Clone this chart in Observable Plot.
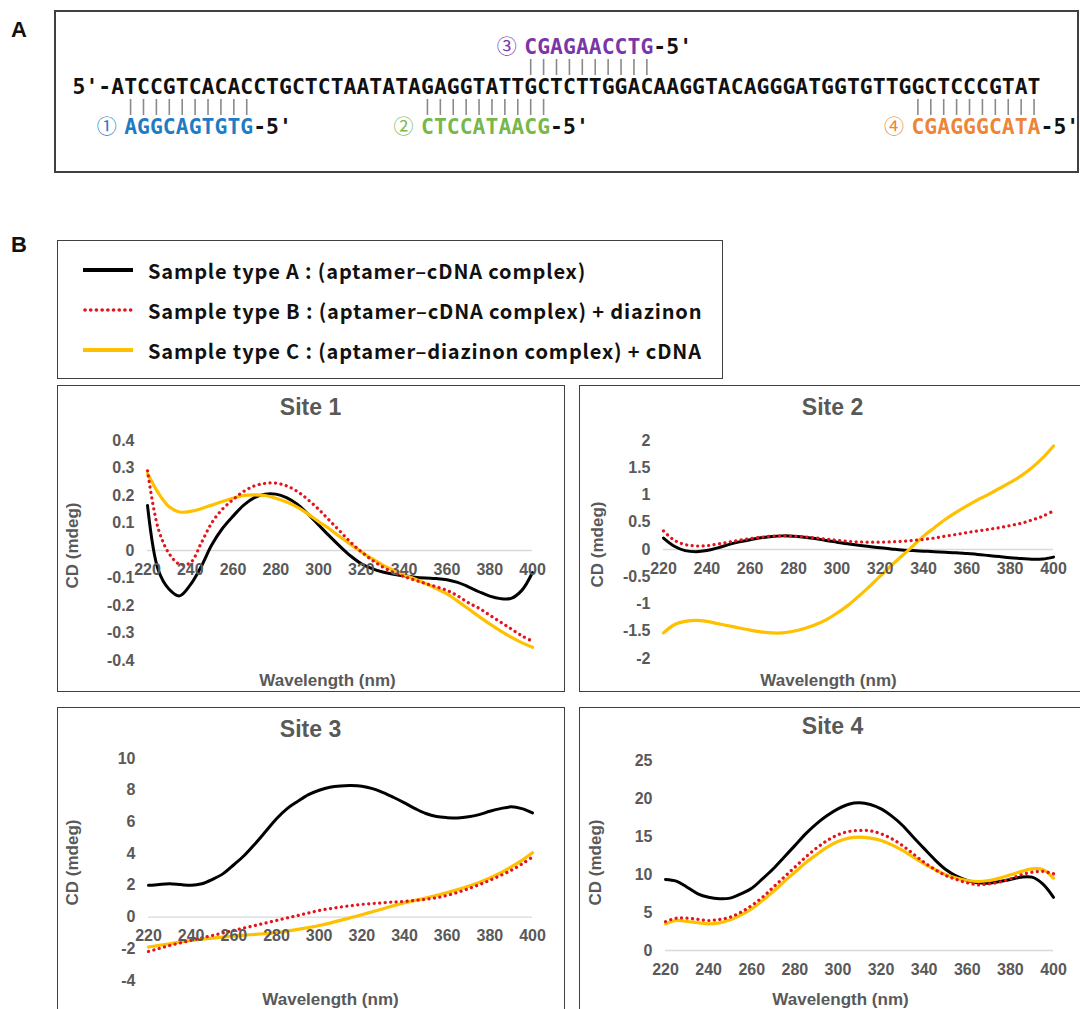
<!DOCTYPE html>
<html><head><meta charset="utf-8">
<script src="https://cdn.jsdelivr.net/npm/d3@7"></script>
<script src="https://cdn.jsdelivr.net/npm/@observablehq/plot@0.6"></script>
<style>
html,body{margin:0;padding:0;background:#fff;width:1080px;height:1009px;overflow:hidden;}
#root{position:relative;width:1080px;height:1009px;overflow:hidden;}
.frame{position:absolute;border:2px solid #404040;box-sizing:border-box;pointer-events:none;}
.plabel{position:absolute;font:bold 22px "Liberation Sans",Arial,sans-serif;color:#111;line-height:1;}
.lg-row{position:absolute;left:83px;height:30px;display:flex;align-items:center;}
.lg-row span{font:bold 20px "Noto Sans CJK KR","Noto Sans",sans-serif;letter-spacing:0.85px;color:#111;margin-left:15px;white-space:nowrap;}
</style></head><body>
<div id="root"></div>
<script>
// ---------- Panel A data ----------
const sequence = "5'-ATCCGTCACACCTGCTCTAATATAGAGGTATTGCTCTTGGACAAGGTACAGGGATGGTGTTGGCTCCCGTAT";
const probeIds = ["①", "②", "③", "④"];
const probeSeqs = ["AGGCAGTGTG", "CTCCATAACG", "CGAGAACCTG", "CGAGGGCATA"];
const probeStart = [4, 27, 35, 65];           // character index in the strand
const probeSide = ["below", "below", "above", "below"];
const probeColors = ["#1f7bc4", "#76b84b", "#7a35a8", "#ee8436"];
const probeSuffix = "-5'";

// ---------- Panel B data ----------
const seriesNames = [
  "Sample type A : (aptamer\u2013cDNA complex)",
  "Sample type B : (aptamer\u2013cDNA complex) + diazinon",
  "Sample type C : (aptamer\u2013diazinon complex) + cDNA"
];
const seriesColors = ["#000000", "#e3141b", "#ffc000"];
const wavelengths = [220,225,230,235,240,245,250,255,260,265,270,275,280,285,290,295,300,305,310,315,320,325,330,335,340,345,350,355,360,365,370,375,380,385,390,395,400];
const wavelengthTicks = [220,240,260,280,300,320,340,360,380,400];

const site1A = [.164,-.07,-.14,-.165,-.125,-.06,.02,.08,.125,.165,.192,.205,.205,.192,.168,.133,.093,.053,.015,-.02,-.048,-.066,-.078,-.086,-.092,-.097,-.1,-.102,-.106,-.116,-.132,-.15,-.166,-.175,-.174,-.145,-.08];
const site1B = [.29,.08,-.01,-.05,-.045,.025,.10,.15,.185,.215,.235,.244,.245,.235,.215,.185,.15,.11,.07,.03,-.005,-.035,-.06,-.08,-.095,-.108,-.12,-.132,-.145,-.165,-.19,-.21,-.235,-.26,-.285,-.31,-.33];
const site1C = [.28,.21,.16,.14,.142,.152,.165,.178,.19,.2,.202,.2,.19,.176,.158,.133,.105,.079,.05,.022,-.005,-.03,-.053,-.072,-.088,-.104,-.12,-.138,-.158,-.184,-.212,-.24,-.267,-.292,-.315,-.335,-.352];
const site1Ticks = [-0.4,-0.3,-0.2,-0.1,0,0.1,0.2,0.3,0.4];

const site2A = [.21,.06,-.02,-.04,-.02,.03,.09,.14,.18,.215,.24,.25,.245,.225,.2,.165,.135,.105,.08,.055,.03,.01,-.01,-.02,-.03,-.04,-.05,-.06,-.075,-.09,-.11,-.13,-.15,-.165,-.18,-.175,-.14];
const site2B = [.34,.17,.09,.065,.07,.1,.135,.17,.2,.225,.245,.25,.245,.23,.215,.19,.17,.15,.14,.135,.135,.14,.15,.165,.185,.21,.245,.275,.31,.34,.37,.4,.44,.48,.54,.61,.71];
const site2C = [-1.53,-1.38,-1.32,-1.3,-1.32,-1.36,-1.4,-1.44,-1.48,-1.51,-1.53,-1.53,-1.5,-1.45,-1.38,-1.29,-1.17,-1.03,-.86,-.68,-.49,-.3,-.12,.06,.245,.4,.55,.68,.8,.91,1.01,1.12,1.23,1.35,1.5,1.68,1.9];
const site2Ticks = [-2,-1.5,-1,-0.5,0,0.5,1,1.5,2];

const site3A = [2.0,2.06,2.1,2.05,2.0,2.1,2.38,2.74,3.3,3.9,4.63,5.41,6.2,6.84,7.3,7.72,8.0,8.19,8.27,8.29,8.25,8.1,7.85,7.54,7.2,6.84,6.53,6.34,6.27,6.25,6.32,6.46,6.67,6.84,6.95,6.84,6.57];
const site3B = [-2.17,-1.98,-1.79,-1.63,-1.47,-1.31,-1.16,-1.0,-.84,-.68,-.53,-.37,-.21,-.05,.1,.26,.42,.53,.63,.72,.8,.85,.9,.95,.99,1.05,1.12,1.22,1.37,1.56,1.79,2.04,2.32,2.62,2.95,3.34,3.79];
const site3C = [-1.89,-1.78,-1.68,-1.57,-1.47,-1.4,-1.33,-1.26,-1.2,-1.14,-1.09,-1.04,-.99,-.89,-.78,-.66,-.53,-.38,-.21,-.03,.15,.34,.53,.72,.9,1.05,1.2,1.37,1.54,1.73,1.94,2.18,2.46,2.78,3.16,3.58,4.06];
const site3Ticks = [-4,-2,0,2,4,6,8,10];

const site4A = [9.34,9.12,8.33,7.46,7.0,6.8,6.89,7.46,8.2,9.43,10.75,12.28,13.8,15.35,16.67,17.76,18.64,19.25,19.43,19.21,18.64,17.68,16.45,14.9,13.4,11.93,10.66,9.78,9.21,8.9,8.86,9.08,9.34,9.65,9.65,8.77,7.0];
const site4B = [3.8,4.25,4.25,4.1,3.95,4.08,4.39,5.04,5.92,7.0,8.33,9.65,10.96,12.28,13.46,14.47,15.22,15.66,15.79,15.75,15.35,14.7,13.8,12.7,11.6,10.66,9.87,9.34,8.9,8.64,8.77,9.0,9.43,9.96,10.3,10.4,10.1];
const site4C = [3.5,3.95,3.82,3.65,3.5,3.64,4.03,4.7,5.48,6.58,7.76,9.08,10.3,11.54,12.59,13.6,14.34,14.78,14.91,14.78,14.47,13.9,13.16,12.28,11.4,10.66,9.96,9.52,9.21,9.08,9.21,9.52,9.96,10.4,10.75,10.66,9.52];
const site4Ticks = [0,5,10,15,20,25];

const xLabel = "Wavelength (nm)";
const yLabel = "CD (mdeg)";

// ---------- helpers ----------
const root = document.getElementById("root");
function put(el, left, top) {
  el.style.position = "absolute"; el.style.left = left + "px"; el.style.top = top + "px";
  root.appendChild(el); return el;
}
function frame(left, top, w, h, bw) {
  const d = document.createElement("div"); d.className = "frame";
  Object.assign(d.style, {left: left + "px", top: top + "px", width: w + "px", height: h + "px", borderWidth: bw + "px"});
  root.appendChild(d);
}
function label(txt, left, top) {
  const d = document.createElement("div"); d.className = "plabel"; d.textContent = txt;
  d.style.left = left + "px"; d.style.top = top + "px"; root.appendChild(d);
}

// ---------- Panel A ----------
label("A", 11, 19);
const rowNames = ["above-probe", "above-bars", "strand", "below-bars", "below-probe"];
const glyphs = sequence.split("").map((c, i) => ({pos: i + 0.5, row: "strand", c, color: "#111"}));
const bars = [], ids = [];
probeSeqs.forEach((s, k) => {
  const st = probeStart[k], side = probeSide[k];
  s.split("").forEach((c, j) => {
    glyphs.push({pos: st + j + 0.5, row: side + "-probe", c, color: probeColors[k]});
    bars.push({pos: st + j + 0.5, row: side + "-bars"});
  });
  probeSuffix.split("").forEach((c, j) => glyphs.push({pos: st + s.length + j + 0.5, row: side + "-probe", c, color: "#111"}));
  ids.push({pos: st - 1.35, row: side + "-probe", c: probeIds[k], color: probeColors[k]});
});
const seqPlot = Plot.plot({
  width: 1024, height: 162,
  marginLeft: 17, marginRight: 39, marginTop: 28.9, marginBottom: 35.9,
  x: {domain: [0, sequence.length], axis: null},
  y: {domain: rowNames, axis: null, paddingInner: 0.2, paddingOuter: 0},
  color: {type: "identity"},
  style: {background: "transparent", overflow: "visible"},
  marks: [
    Plot.tickX(bars, {x: "pos", y: "row", stroke: "#8a8a8a", strokeWidth: 1.6}),
    Plot.text(glyphs, {x: "pos", y: "row", text: "c", fill: "color", fontSize: 21.4, fontWeight: "bold", fontFamily: "'DejaVu Sans Mono', monospace"}),
    Plot.text(ids, {x: "pos", y: "row", text: "c", fill: "color", fontSize: 20, fontFamily: "'Noto Sans CJK KR', sans-serif"})
  ]
});
put(seqPlot, 55, 10);
frame(54, 10, 1025, 163, 2);

// ---------- Panel B legend ----------
label("B", 11, 234);
frame(57, 240, 666, 139, 1.6);
const legendY = [255, 295, 335];
seriesNames.forEach((name, i) => {
  const row = document.createElement("div"); row.className = "lg-row";
  const dash = i === 1 ? 'stroke-dasharray="0.1 5.6" stroke-linecap="round" stroke-width="3.6"' : 'stroke-width="4"';
  row.innerHTML = `<svg width="50" height="10" style="overflow:visible"><line x1="${i===1?2:0}" y1="5" x2="50" y2="5" stroke="${seriesColors[i]}" ${dash}/></svg><span>${name}</span>`;
  row.style.top = legendY[i] + "px";
  root.appendChild(row);
});

// ---------- Panel B site charts ----------
const sites = [
  {title: "Site 1", vals: [site1A, site1B, site1C], yDomain: [-0.4, 0.4], yTicks: site1Ticks, box: [57, 385, 508, 307], m: [55, 33, 32, 90], titleAt: [310, 407], yLabelAt: [72, 545], xLabelAt: [327, 680]},
  {title: "Site 2", vals: [site2A, site2B, site2C], yDomain: [-2, 2], yTicks: site2Ticks, box: [579, 385, 505, 307], m: [55, 31, 34, 84], titleAt: [832, 407], yLabelAt: [597, 544], xLabelAt: [828, 680]},
  {title: "Site 3", vals: [site3A, site3B, site3C], yDomain: [-4, 10], yTicks: site3Ticks, box: [57, 707, 508, 310], m: [51, 33, 37, 91], titleAt: [310, 729], yLabelAt: [72, 862], xLabelAt: [330, 999]},
  {title: "Site 4", vals: [site4A, site4B, site4C], yDomain: [0, 25], yTicks: site4Ticks, box: [579, 707, 505, 310], m: [53, 31, 67, 86], titleAt: [832, 726], yLabelAt: [595, 862], xLabelAt: [840, 999]}
];
const seriesStyle = [
  {stroke: seriesColors[0], strokeWidth: 3},
  {stroke: seriesColors[1], strokeWidth: 3.2, strokeDasharray: "0.1 5.4", strokeLinecap: "round"},
  {stroke: seriesColors[2], strokeWidth: 3.2}
];
const drawOrder = [0, 2, 1];
const gray = "#595959";
const font = "'Liberation Sans', Arial, sans-serif";
const fmt = d => String(+d.toFixed(2));

sites.forEach(s => {
  const [left, top, w, h] = s.box;
  const [mt, mr, mb, ml] = s.m;
  const at = (p, opts) => ({frameAnchor: "top-left", dx: p[0] - left - ml, dy: p[1] - top - mt, textAnchor: "middle", lineAnchor: "middle", fill: gray, fontWeight: "bold", fontFamily: font, ...opts});
  const lines = drawOrder.map(k => Plot.line(wavelengths.map((wl, i) => ({wl, v: s.vals[k][i]})), {x: "wl", y: "v", curve: "catmull-rom", ...seriesStyle[k]}));
  const chart = Plot.plot({
    width: w, height: h, marginTop: mt, marginRight: mr, marginBottom: mb, marginLeft: ml,
    x: {domain: [220, 400], axis: null},
    y: {domain: s.yDomain, axis: null},
    style: {background: "transparent", overflow: "visible"},
    marks: [
      Plot.ruleY([0], {stroke: "#d9d9d9", strokeWidth: 1.3}),
      Plot.axisY(s.yTicks, {tickSize: 0, tickPadding: 13, tickFormat: fmt, label: null, fontSize: 16, fontWeight: "bold", fontFamily: font, fill: gray}),
      ...lines,
      Plot.text(wavelengthTicks, {x: d => d, y: d => 0, dy: 19, text: d => String(d), fontSize: 16, fontWeight: "bold", fontFamily: font, fill: gray}),
      Plot.text([s.title], at(s.titleAt, {fontSize: 23})),
      Plot.text([xLabel], at(s.xLabelAt, {fontSize: 17})),
      Plot.text([yLabel], at(s.yLabelAt, {fontSize: 17, rotate: -90}))
    ]
  });
  put(chart, left, top);
  frame(left, top, w, h, 1.6);
});
</script>
</body></html>
